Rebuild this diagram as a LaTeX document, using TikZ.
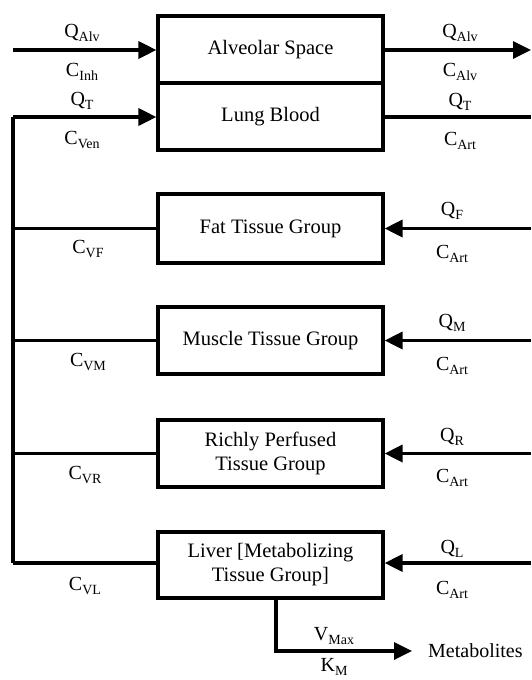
\documentclass[tikz,border=0pt]{standalone}
\usepackage{fontspec}
\setmainfont{Liberation Serif}
\usetikzlibrary{arrows.meta}
% symbol with a lowered subscript
\newcommand{\qsub}[2]{#1\raisebox{-4.5pt}{\fontsize{14}{14}\selectfont #2}}
\begin{document}
\begin{tikzpicture}[x=1pt,y=-1pt,
  compartment/.style={draw,line width=3.2pt,minimum width=225pt,inner sep=2pt,
    align=center,font=\fontsize{20.5}{24}\selectfont},
  flow/.style={line width=3.4pt},
  flowarrow/.style={line width=3.4pt,-{Triangle[length=18pt,width=17pt]}},
  lbl/.style={inner sep=0pt,font=\fontsize{20}{22}\selectfont}]
\useasboundingbox (0,0) rectangle (531,680);

% compartments
\node[compartment,minimum height=67pt] (alv) at (270.5,49.5) {Alveolar Space};
\node[compartment,minimum height=67pt] (lung) at (270.5,116.5) {Lung Blood};
\node[compartment,minimum height=69pt] (fat) at (270.5,228.5) {Fat Tissue Group};
\node[compartment,minimum height=67pt] (mus) at (270.5,340.5) {Muscle Tissue Group};
\node[compartment,minimum height=67pt] (rich) at (270.5,453.5) {Richly Perfused\\Tissue Group};
\node[compartment,minimum height=66pt] (liv) at (270.5,565) {Liver [Metabolizing\\Tissue Group]};
\node[lbl,anchor=west] (met) at (428,651) {Metabolites};

% free ends of the flows
\coordinate (inh) at (13,50);
\coordinate (exh) at (531,50);
\coordinate (art) at (531,117);
\coordinate (ven) at (13,117);
\coordinate (vf) at (13,228.5);
\coordinate (vm) at (13,340.5);
\coordinate (vr) at (13,453.5);
\coordinate (vl) at (13,563);
\coordinate (af) at (531,228.5);
\coordinate (am) at (531,340.5);
\coordinate (ar) at (531,453.5);
\coordinate (al) at (531,563);
\coordinate (lk) at (276,651);

% ventilation
\draw[flowarrow] (inh) -- (inh -| alv.west);
\draw[flowarrow] (alv.east |- exh) -- (exh);

% venous return and arterial supply
\draw[flow] (vl) -- (ven);
\draw[flowarrow] (ven) -- (ven -| lung.west);
\draw[flow] (lung.east |- art) -- (art);
\foreach \v/\b in {vf/fat,vm/mus,vr/rich,vl/liv}
  \draw[flow] (\v) -- (\v -| \b.west);
\foreach \a/\b in {af/fat,am/mus,ar/rich,al/liv}
  \draw[flowarrow] (\a) -- (\a -| \b.east);

% hepatic metabolism
\draw[flowarrow] (liv.south -| lk) -- (lk) -- ([xshift=-16pt]met.west);

% flow and concentration labels
\node[lbl] (l1) at (82,33) {\qsub{Q}{Alv}};
\node[lbl] (l2) at (82,72) {\qsub{C}{Inh}};
\node[lbl] (l3) at (82,101) {\qsub{Q}{T}};
\node[lbl] (l4) at (82,140) {\qsub{C}{Ven}};
\node[lbl] (r1) at (460,33) {\qsub{Q}{Alv}};
\node[lbl] (r2) at (460,72) {\qsub{C}{Alv}};
\node[lbl] (r3) at (460,102) {\qsub{Q}{T}};
\node[lbl] (r4) at (460,141) {\qsub{C}{Art}};

\node[lbl] (cvf) at (88,249) {\qsub{C}{VF}};
\node[lbl] (qf) at (452,211) {\qsub{Q}{F}};
\node[lbl] (caf) at (452,254) {\qsub{C}{Art}};

\node[lbl] (cvm) at (88,362) {\qsub{C}{VM}};
\node[lbl] (qm) at (452,323) {\qsub{Q}{M}};
\node[lbl] (cam) at (452,366) {\qsub{C}{Art}};

\node[lbl] (cvr) at (85,475) {\qsub{C}{VR}};
\node[lbl] (qr) at (452,437) {\qsub{Q}{R}};
\node[lbl] (car) at (452,478) {\qsub{C}{Art}};

\node[lbl] (cvl) at (85,586) {\qsub{C}{VL}};
\node[lbl] (ql) at (452,549) {\qsub{Q}{L}};
\node[lbl] (cal) at (452,590) {\qsub{C}{Art}};

\node[lbl] (vmax) at (334,636) {\qsub{V}{Max}};
\node[lbl] (km) at (334,667) {\qsub{K}{M}};
\end{tikzpicture}
\end{document}
